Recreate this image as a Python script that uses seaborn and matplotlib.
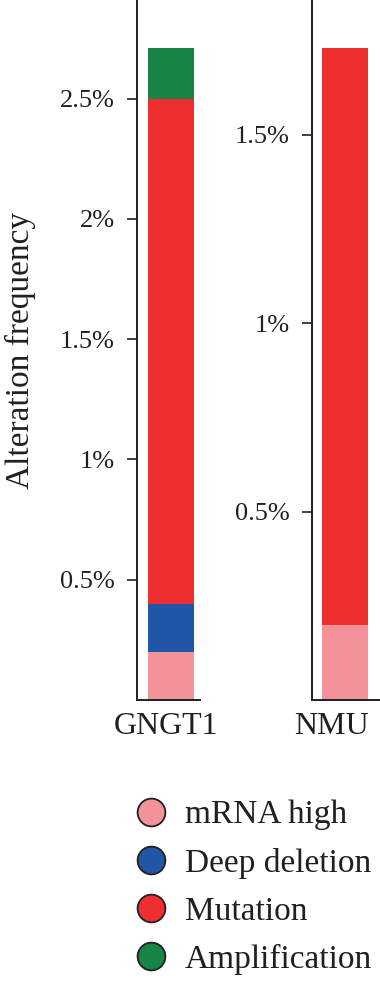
import matplotlib
matplotlib.use("Agg")
import matplotlib.pyplot as plt
import matplotlib.transforms as mtransforms
from matplotlib.lines import Line2D
from matplotlib.ticker import FuncFormatter
import seaborn as sns
import pandas as pd

# ============ Data ============
genes = ["GNGT1", "NMU"]
alterations = ["mRNA high", "Deep deletion", "Mutation", "Amplification"]
gngt1_values = [0.20, 0.20, 2.10, 0.21]   # % of samples
nmu_values = [0.20, 0.00, 1.53, 0.00]
gngt1_ticks = [0.5, 1, 1.5, 2, 2.5]
nmu_ticks = [0.5, 1, 1.5]
colors = ["#F4929A", "#2155A6", "#EE2F31", "#178545"]

INK = "#231F20"

df = pd.DataFrame({
    "gene": [g for g in genes for _ in alterations],
    "alteration": alterations * len(genes),
    "value": gngt1_values + nmu_values,
})
df["top"] = df.groupby("gene")["value"].cumsum()

# ============ Style ============
sns.set_style("ticks")
plt.rcParams["font.family"] = ["Liberation Serif", "DejaVu Serif"]
plt.rcParams["axes.edgecolor"] = INK
plt.rcParams["axes.linewidth"] = 1.4

fig = plt.figure(figsize=(3.8, 9.82), dpi=100)
W, H = 380, 982
bottom = (H - 700) / H
height = 700 / H
ax_left = fig.add_axes([137 / W, bottom, 63 / W, height])
ax_right = fig.add_axes([312 / W, bottom, 68 / W, height])

# (axes, gene, y ticks, ylim, xlim, x-label shift in px)
panels = [
    (ax_left, "GNGT1", gngt1_ticks, (0, 2.91), (-0.59, 0.505), -5),
    (ax_right, "NMU", nmu_ticks, (0, 1.858), (-0.574, 0.61), -14),
]

pct = FuncFormatter(lambda v, _: f"{v:g}%")

for ax, gene, ticks, ylim, xlim, shift in panels:
    sub = df[df["gene"] == gene].reset_index(drop=True)
    # stacked bar: draw cumulative tops from the highest down
    for i in reversed(range(len(sub))):
        if sub.loc[i, "value"] <= 0:
            continue
        sns.barplot(data=sub.iloc[[i]], x="gene", y="top", color=colors[i],
                    saturation=1, width=0.8, linewidth=0, errorbar=None, ax=ax)
    ax.set_xlim(*xlim)
    ax.set_ylim(*ylim)
    ax.set_yticks(ticks)
    ax.yaxis.set_major_formatter(pct)
    ax.set_xlabel("")
    ax.set_ylabel("")
    sns.despine(ax=ax)
    ax.tick_params(axis="y", length=7, width=1.2, pad=9, labelsize=19,
                   color=INK, labelcolor=INK)
    ax.tick_params(axis="x", length=0, pad=9, labelsize=23, labelcolor=INK)
    off = mtransforms.ScaledTranslation(shift / 100, 0, fig.dpi_scale_trans)
    for lab in ax.get_xticklabels():
        lab.set_transform(lab.get_transform() + off)

ax_left.set_ylabel("Alteration frequency", fontsize=24, color=INK)
ax_left.yaxis.set_label_coords(-1.60, 0.5)

# ============ Legend ============
handles = [Line2D([], [], linestyle="none", marker="o", markersize=20,
                  markerfacecolor=c, markeredgecolor=INK, markeredgewidth=1.3)
           for c in colors]
fig.legend(handles, alterations, loc="upper left",
           bbox_to_anchor=(134 / W, 1 - 800 / H), frameon=False,
           borderpad=0, borderaxespad=0, handlelength=1.0,
           handletextpad=0.52, labelspacing=0.52, fontsize=24,
           labelcolor=INK)

fig.savefig("out.png", dpi=100)
